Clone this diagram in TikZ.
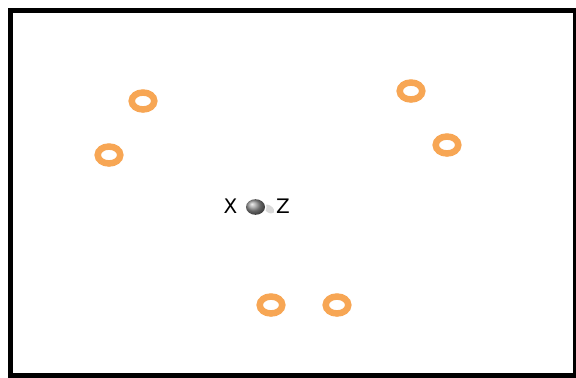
\documentclass[tikz,border=0pt]{standalone}
\usepackage{fontspec}
\setmainfont{DejaVu Sans}
\definecolor{ringc}{RGB}{247,166,84}
\begin{document}
\begin{tikzpicture}[x=1bp,y=-1bp,
  ring/.style={draw=ringc,line width=6.5bp,fill=white},
  lab/.style={font=\fontsize{20bp}{22bp}\selectfont,inner sep=0pt}]
\useasboundingbox (0,0) rectangle (576,377);
\draw[line width=5bp] (10.5,10.5) rectangle (575.5,375.5);
\foreach \n/\x/\y in {r1/143/101, r2/109/155, r3/411/91, r4/447/145, r5/271/305, r6/337/305}{
  \draw[ring] (\x,\y) ellipse [x radius=11.3bp, y radius=8.5bp];
  \coordinate (\n) at (\x,\y);
}
% shadow
\fill[gray!30,rotate around={-35:(269,209)}] (269,209) ellipse [x radius=6bp, y radius=3.5bp];
% halo
\fill[white] (255.5,207) ellipse [x radius=11bp, y radius=9bp];
\shade[ball color=gray!85] (255.5,207) ellipse [x radius=9.5bp, y radius=7.8bp];
\coordinate (sphere) at (255.5,207);
\node[lab] (X) at (230.5,206) {X};
\node[lab] (Z) at (283,206) {Z};
\end{tikzpicture}
\end{document}
